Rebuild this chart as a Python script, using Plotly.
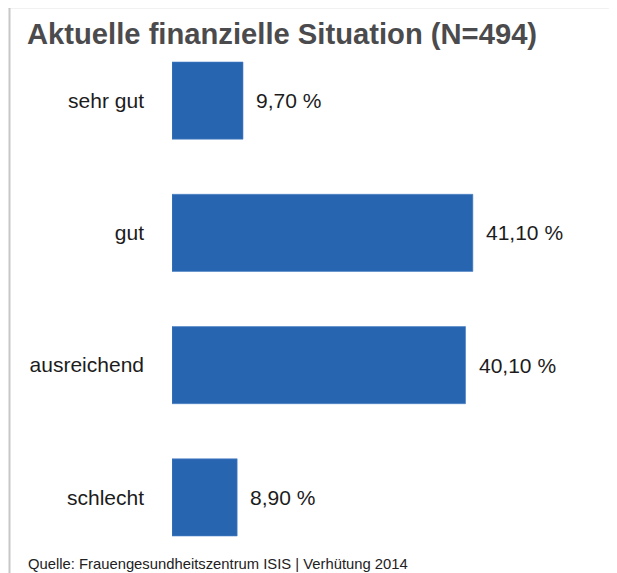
import plotly.graph_objects as go

categories = ["sehr gut", "gut", "ausreichend", "schlecht"]
shares = [9.70, 41.10, 40.10, 8.90]
title_text = "Aktuelle finanzielle Situation (N=494)"
source_text = "Quelle: Frauengesundheitszentrum ISIS | Verhütung 2014"

OFF = 8  # page body margin, the figure sits 8px in from the top-left corner
W, H = 617 - OFF, 573 - OFF
L, R, T, B = 172 - OFF, 605 - OFF, 40 - OFF, 540 - OFF  # plot area in figure pixels
FONT = "Liberation Sans, Arial, sans-serif"


def xp(px):
    # screen pixel -> paper coordinate
    return (px - OFF - L) / (R - L)


def yp(py):
    return (B - (py - OFF)) / (B - T)


fig = go.Figure()
fig.add_trace(go.Bar(
    x=shares, y=categories, orientation="h",
    marker=dict(color="#2865b1", line=dict(color="#4a80c4", width=0.6)),
    width=0.583, hoverinfo="skip",
))

for c, v in zip(categories, shares):
    fig.add_annotation(
        x=v, y=c, text=f"{v:.2f}".replace(".", ",") + " %",
        xanchor="left", yanchor="middle", xshift=11, showarrow=False,
        font=dict(family=FONT, size=21, color="#1c1c1c"),
    )

fig.add_annotation(
    xref="paper", yref="paper", x=xp(25), y=yp(33.5), text=f"<b>{title_text}</b>",
    xanchor="left", yanchor="middle", showarrow=False,
    font=dict(family=FONT, size=29.2, color="#4b4b4d"),
)
fig.add_annotation(
    xref="paper", yref="paper", x=xp(25.5), y=yp(563.5), text=source_text,
    xanchor="left", yanchor="middle", showarrow=False,
    font=dict(family=FONT, size=14.8, color="#222222"),
)

# light frame at top and left
fig.add_shape(type="line", xref="paper", yref="paper", x0=xp(8), x1=xp(617 + 4), y0=yp(7.3), y1=yp(7.3),
              line=dict(color="#c8c8c8", width=2))
fig.add_shape(type="line", xref="paper", yref="paper", x0=xp(9.5), x1=xp(9.5), y0=yp(6.3), y1=yp(573 + 4),
              line=dict(color="#c8c8c8", width=2))

fig.update_layout(
    width=W, height=H,
    margin=dict(l=L, r=W - R, t=T, b=H - B),
    paper_bgcolor="white", plot_bgcolor="white",
    showlegend=False,
    xaxis=dict(range=[0, (R - L) / 7.32], visible=False, fixedrange=True),
    yaxis=dict(
        range=[3.322, -0.458], showgrid=False, zeroline=False, showline=False,
        ticks="", ticklabelstandoff=27, fixedrange=True,
        tickfont=dict(family=FONT, size=21, color="#1c1c1c"),
    ),
)

# no scrollbars, so the frame line reaches the right edge
fig.write_html("out.html", post_script="document.documentElement.style.overflow='hidden';"
                                       "document.body.style.overflow='hidden';")
